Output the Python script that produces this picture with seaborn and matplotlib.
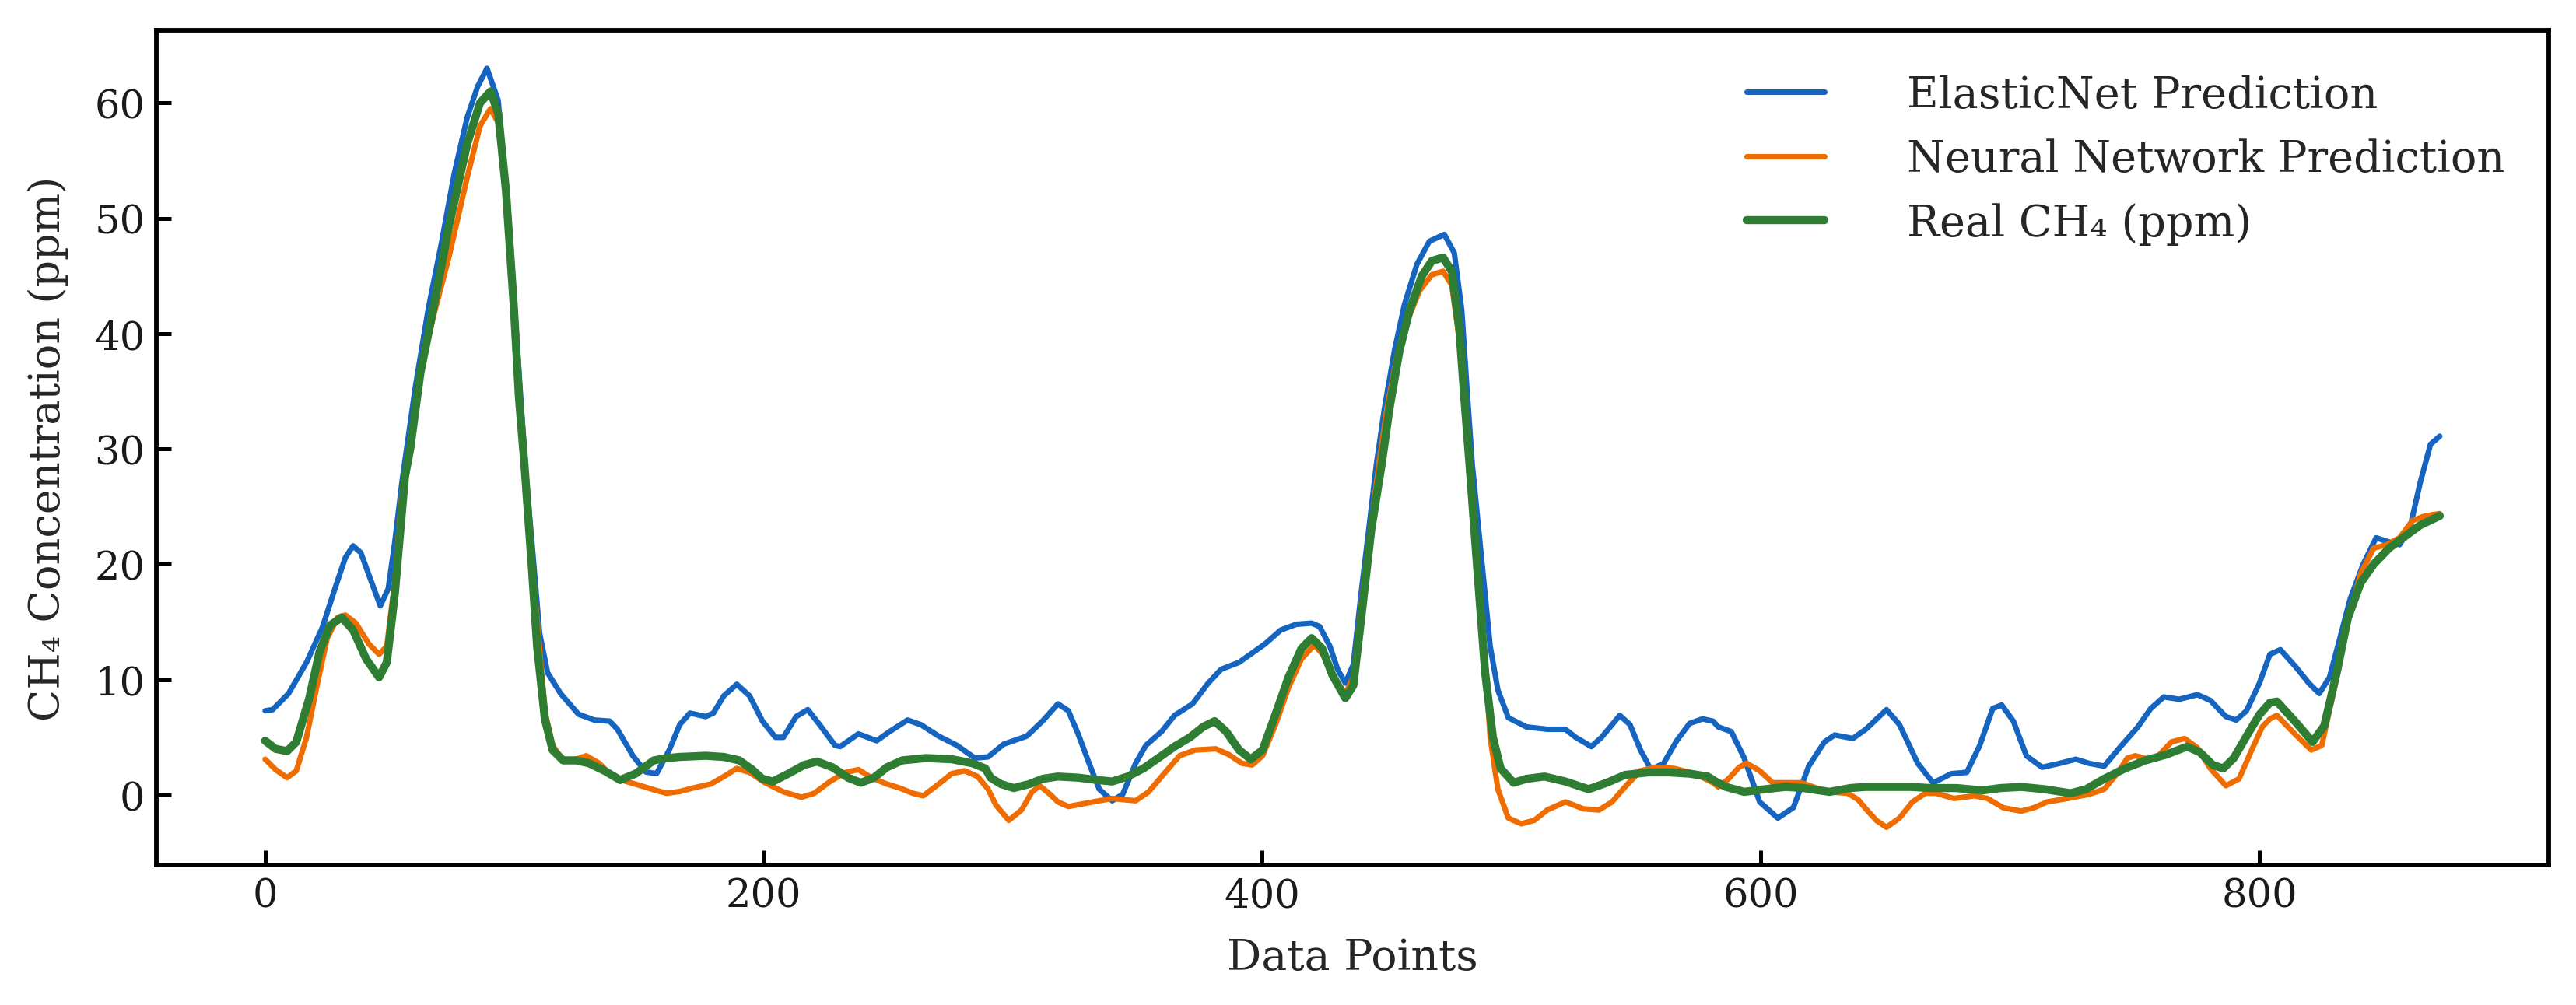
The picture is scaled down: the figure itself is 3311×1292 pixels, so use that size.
import matplotlib
matplotlib.use("Agg")
import matplotlib.pyplot as plt
import seaborn as sns

# values (x = data point index, y = CH4 ppm)
elastic_x = [0, 3, 9.4, 16.6, 22.9, 28, 32.2, 35.3, 38.4, 42.6, 46.2, 49.4, 52, 55, 60.3, 65.5,
             70.7, 75.9, 81, 85.2, 89, 93.5, 96.1, 98.7, 100.8, 102.9, 104.5, 107, 110.1, 113.3,
             118.5, 125.7, 132, 138.2, 141.3, 147.5, 152.7, 157, 162.1, 166.3, 170.4, 176.7,
             179.8, 184, 189.2, 194.3, 199.5, 204.7, 207.9, 213, 217.7, 222.4, 228.6, 230.7,
             238, 245.3, 250.5, 257.7, 263, 270.2, 277.5, 284.7, 290, 296.2, 305.5, 311.8, 318,
             322.2, 326.3, 330.5, 334.6, 339.8, 344, 349.2, 353.3, 359.6, 364.8, 372, 378.3,
             383.5, 390.7, 401.1, 407.4, 413.6, 419.8, 423, 427.1, 430.2, 433.3, 436.5, 439.6,
             442.7, 445.8, 449, 453, 457, 462, 467, 473, 477, 480, 482, 484.2, 488.3, 491.4,
             494.5, 498.7, 506, 514.3, 521.6, 525.7, 532, 536.1, 543.4, 547.5, 551.7, 555.9,
             561, 566.2, 571.4, 576.6, 580.8, 582.9, 588.1, 593.3, 599.5, 606.8, 613, 619.2,
             625.5, 629.6, 636.9, 642.1, 650.4, 655.6, 662.9, 669.1, 676.4, 682.6, 687.8, 693,
             696.6, 701.3, 706.5, 712.8, 720, 726.3, 731.5, 737.7, 743.9, 751.2, 756.4, 761.6,
             767.8, 775.1, 780.3, 786.5, 790.7, 794.8, 800, 804.2, 808.4, 814.6, 819.8, 824,
             828.1, 832.3, 836.4, 841.6, 846.8, 851, 856.2, 860.3, 864.5, 868.6, 872.3]
elastic_y = [7.3, 7.4, 8.8, 11.5, 14.5, 17.9, 20.6, 21.6, 21.0, 18.5, 16.4, 17.9, 21.9, 27.3, 35.4, 42.2,
             47.8, 53.9, 58.7, 61.4, 63.0, 60.2, 53.5, 46.7, 40, 33.2, 28.0, 21.9, 14.0, 10.6,
             8.8, 7.0, 6.5, 6.4, 5.7, 3.4, 2.0, 1.85, 3.9, 6.1, 7.1, 6.8,
             7.1, 8.6, 9.6, 8.6, 6.4, 5.0, 5.0, 6.8, 7.4, 6.1, 4.3, 4.2,
             5.3, 4.7, 5.5, 6.5, 6.1, 5.1, 4.3, 3.2, 3.3, 4.4, 5.1, 6.4, 7.9,
             7.3, 5.2, 2.75, 0.5, -0.5, 0.05, 2.75, 4.3, 5.5, 6.9, 7.9, 9.7,
             10.9, 11.5, 13.1, 14.3, 14.8, 14.9, 14.6, 12.9, 10.9, 9.7, 11.3, 17.4,
             23.0, 28.7, 33.5, 38.5, 42.5, 46, 48, 48.6, 47, 42, 35.5, 28.7, 19.7, 12.9,
             9.1, 6.7, 5.9, 5.7, 5.7, 5.0, 4.2, 5.0, 6.9, 6.1, 3.9, 2.2,
             2.75, 4.7, 6.2, 6.6, 6.4, 5.9, 5.5, 3.2, -0.6, -2.0, -1.1, 2.5,
             4.6, 5.2, 4.9, 5.7, 7.4, 6.1, 2.75, 1.05, 1.85, 1.96, 4.3, 7.5,
             7.8, 6.4, 3.4, 2.4, 2.75, 3.1, 2.75, 2.5, 4.1, 5.9, 7.5, 8.5,
             8.3, 8.7, 8.2, 6.8, 6.5, 7.3, 9.7, 12.2, 12.6, 11.1, 9.7, 8.8,
             10.2, 13.6, 17.0, 20.0, 22.3, 22.0, 21.7, 23.1, 27.1, 30.4, 31.1]

neural_x = [0, 4.2, 8.8, 12.5, 16.6, 20.8, 24.9, 29.1, 32.2, 36.4, 41.6, 45.7, 48.8, 52, 55, 58.2,
            62.3, 67.5, 73.8, 81, 86.2, 90.4, 93.5, 96.6, 99.8, 101.8, 103.6, 106.5, 109.1,
            112.2, 115.3, 119.5, 124.7, 128.8, 134, 139.2, 144.4, 150.7, 155.9, 161.1, 166.3,
            171.5, 178.8, 184, 189.2, 194.3, 200.6, 207.9, 215.1, 220.3, 226.6, 232.8, 238,
            243.2, 249.4, 254.6, 259.8, 264, 270.2, 275.4, 280.6, 285.8, 290, 293.1, 298.3,
            303.4, 307.6, 310.7, 314.9, 318, 322.2, 328.4, 334.6, 339.8, 344, 349.2, 354.4,
            360.6, 366.8, 373.1, 381.4, 386.6, 391.8, 395.9, 400.1, 405.3, 410.5, 415.7,
            420.9, 425, 429.2, 433.3, 436.5, 439.6, 442.7, 446.8, 450, 454, 458, 463, 468,
            472.5, 476, 479, 481, 483.1, 485.5, 488.3, 491.4, 494.5, 498.7, 503.9, 509.1,
            514.3, 521.6, 528.8, 535.1, 540.3, 545.5, 551.7, 557.9, 565.2, 573.5, 580.8,
            582.9, 587, 591.2, 594.3, 599.5, 604.7, 610.9, 616.1, 622.4, 627.5, 634.8, 639,
            642.1, 646.3, 650.4, 655.6, 660.8, 666, 670.2, 677.4, 685.7, 690.9, 697.2, 704.4,
            709.6, 714.8, 723.1, 731.5, 737.7, 742.9, 747, 750.2, 755.4, 759.5, 764.7, 769.9,
            775.1, 780.3, 786.5, 791.8, 796.9, 801.1, 804.2, 807, 814.6, 820.8, 825, 830.2,
            835.4, 840.6, 845.8, 851, 856.2, 861.4, 866.5, 872.3]
neural_y = [3.1, 2.2, 1.5, 2.1, 5.0, 9.5, 13.6, 15.4, 15.6, 14.9, 13.1, 12.2, 12.9, 18.5, 26.4, 30.5,
            36.6, 41.5, 46.7, 53.5, 58.0, 59.5, 58.3, 52.0, 42.0, 34.0, 28.7, 21.5, 15.2,
            7.3, 4.3, 3.0, 3.1, 3.4, 2.75, 1.6, 1.2, 0.8, 0.45, 0.15, 0.3,
            0.6, 0.95, 1.6, 2.3, 1.96, 1.06, 0.27, -0.2, 0.15, 1.17, 1.96, 2.2,
            1.5, 0.95, 0.6, 0.15, -0.07, 0.95, 1.85, 2.1, 1.6, 0.5, -0.86, -2.2,
            -1.3, 0.27, 0.8, 0.05, -0.6, -1.0, -0.75, -0.5, -0.3, -0.4, -0.5, 0.27,
            1.85, 3.4, 3.9, 4.0, 3.5, 2.75, 2.6, 3.4, 6.1, 9.3, 11.8,
            13.0, 12.0, 10.0, 8.8, 10.2, 16.3, 21.9, 28.7, 33.5, 38, 41, 43.7, 45.1,
            45.4, 44.2, 39.5, 34, 28.7, 21, 15.2, 5.0, 0.5, -2.0, -2.5, -2.2,
            -1.3, -0.6, -1.2, -1.3, -0.6, 0.7, 2.1, 2.4, 2.3, 1.85, 1.06,
            0.7, 1.4, 2.4, 2.75, 2.1, 1.06, 1.06, 1.06, 0.6, 0.27, 0.15, -0.4,
            -1.2, -2.2, -2.8, -2.0, -0.6, 0.15, 0.15, -0.3, -0.07, -0.3, -1.1, -1.4,
            -1.1, -0.6, -0.3, 0.05, 0.5, 1.85, 3.2, 3.4, 3.1, 3.4, 4.6, 4.9,
            4.1, 2.3, 0.8, 1.4, 3.9, 5.9, 6.6, 6.9, 5.2, 3.9, 4.3, 9.4,
            15.0, 19.2, 21.4, 21.7, 22.3, 23.8, 24.2, 24.4]

real_x = [0, 4.2, 8.8, 12.5, 17.7, 21.8, 26, 30.7, 35.3, 40.5, 45.7, 48.8, 52, 56.1, 58.2, 62.3,
          67.5, 73.8, 81, 86.2, 90.4, 93.5, 96.6, 99.8, 101.8, 104, 107, 109.1, 112.2, 115.3,
          119.5, 124.7, 129.9, 136.1, 142.4, 148.6, 155.9, 161.1, 166.3, 176.7, 184, 190.2,
          195.4, 199.5, 203.7, 209.9, 216.2, 221.4, 227.6, 233.8, 239, 244.2, 249.4, 255.6,
          265, 275.4, 283.7, 288.9, 291, 295.1, 300.3, 306.6, 311.8, 318, 326.3, 333.6,
          339.8, 346, 352.3, 359.6, 364.8, 371, 376.2, 380.9, 385.5, 390.7, 395.4, 400.1,
          405.3, 410.5, 415.7, 419.8, 424, 428.1, 433.3, 436.5, 439.6, 443.7, 447.9, 451,
          455, 459, 464, 468, 472.5, 476, 479, 481, 483.1, 486.2, 489.4, 492.5, 495.6,
          500.8, 506, 513.2, 521.6, 530.9, 538.2, 545.5, 554.8, 563.1, 571.4, 578.7, 581.8,
          586, 593.3, 601.6, 609.9, 617.2, 627.5, 635.9, 642.1, 652.5, 659.8, 668.1, 678.5,
          688.9, 696.1, 704.4, 713.8, 724.2, 730.4, 737.7, 746, 754.3, 762.6, 771, 776.1,
          781.3, 785.5, 789.7, 795.9, 800.1, 804.2, 807, 814.6, 821.3, 826, 831.2, 835.4,
          840.6, 845.8, 852, 858.2, 864.5, 872.3]
real_y = [4.7, 4.0, 3.8, 4.6, 8.4, 12.4, 14.7, 15.4, 14.3, 11.8, 10.2, 11.5, 17.4, 27.6, 30.0, 36.6,
          42.2, 49.4, 56.4, 60.0, 61.0, 59.1, 52.4, 42.2, 34.5, 28.7, 19.7, 12.9, 6.6, 3.9,
          3.0, 3.0, 2.75, 2.1, 1.3, 1.85, 3.0, 3.2, 3.3, 3.4, 3.3, 3.0,
          2.2, 1.4, 1.17, 1.85, 2.6, 2.9, 2.4, 1.5, 1.06, 1.5, 2.4, 3.0,
          3.2, 3.1, 2.75, 2.3, 1.5, 0.95, 0.6, 0.95, 1.4, 1.6, 1.5, 1.3,
          1.17, 1.6, 2.3, 3.4, 4.2, 5.0, 5.9, 6.4, 5.5, 3.9, 3.1, 3.9,
          7.0, 10.2, 12.7, 13.6, 12.7, 10.4, 8.4, 9.5, 15.2, 23.0, 28.7, 33.5,
          38.5, 42, 45, 46.3, 46.6, 45.4, 40.5, 34.5, 28.7, 19.7, 10.6, 5.0, 2.3,
          1.06, 1.4, 1.6, 1.17, 0.5, 1.06, 1.74, 1.96, 1.96, 1.85, 1.6, 1.17,
          0.7, 0.27, 0.5, 0.7, 0.6, 0.27, 0.6, 0.7, 0.7, 0.7, 0.6, 0.6,
          0.4, 0.6, 0.7, 0.5, 0.15, 0.5, 1.4, 2.3, 3.0, 3.5, 4.2, 3.7,
          2.6, 2.3, 3.2, 5.5, 7.0, 8.0, 8.1, 6.3, 4.6, 6.0, 10.8, 15.3,
          18.4, 20.0, 21.4, 22.4, 23.4, 24.2]

series_labels = ["ElasticNet Prediction", "Neural Network Prediction", "Real CH\u2084 (ppm)"]

sns.set_style("white")
plt.rcParams["font.family"] = ["DejaVu Serif"]

fig, ax = plt.subplots(figsize=(11.04, 4.31), dpi=300)
fig.subplots_adjust(left=0.0607, right=0.989, top=0.969, bottom=0.139)

sns.lineplot(x=elastic_x, y=elastic_y, ax=ax, color="#1565C0", linewidth=1.7,
             label=series_labels[0], estimator=None, errorbar=None, sort=False)
sns.lineplot(x=neural_x, y=neural_y, ax=ax, color="#EF6C00", linewidth=1.7,
             label=series_labels[1], estimator=None, errorbar=None, sort=False)
sns.lineplot(x=real_x, y=real_y, ax=ax, color="#2E7D32", linewidth=2.5,
             label=series_labels[2], estimator=None, errorbar=None, sort=False)

ax.set_xlabel("Data Points", fontsize=13.3, labelpad=7)
ax.set_ylabel("CH\u2084 Concentration (ppm)", fontsize=13, labelpad=8)
ax.set_xticks([0, 200, 400, 600, 800])
ax.set_yticks([0, 10, 20, 30, 40, 50, 60])
ax.tick_params(direction="in", length=4.5, width=1.2, labelsize=12.3,
               bottom=True, left=True, colors="black", labelcolor="#1a1a1a")
for s in ax.spines.values():
    s.set_linewidth(1.4)
    s.set_color("black")

ax.legend(frameon=False, fontsize=13.4, loc="upper right",
          handlelength=1.8, handletextpad=1.9, borderaxespad=0.6)

fig.savefig("out.png", dpi=300)
